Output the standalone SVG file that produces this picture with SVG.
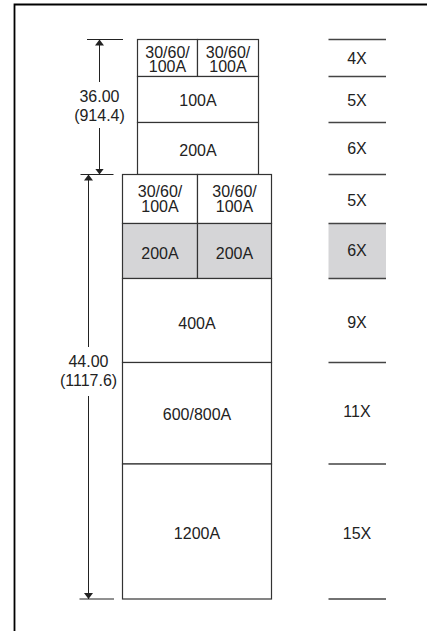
<svg xmlns="http://www.w3.org/2000/svg" width="427" height="631" viewBox="0 0 427 631">
<defs>
<style>
text{font-family:"Liberation Sans",Arial,Helvetica,sans-serif;font-size:16px;fill:#222;text-anchor:middle}
.cell{fill:#fff;stroke:#333;stroke-width:1.2}
.gray{fill:#d5d5d7;stroke:#333;stroke-width:1.2}
.ln{stroke:#333;stroke-width:1.2;fill:none}
.rl{stroke:#444;stroke-width:1.6;fill:none}
.dim{stroke:#222;stroke-width:1;fill:none}
</style>
<marker id="arr" viewBox="0 0 10 10" refX="10" refY="5" markerWidth="6" markerHeight="9" markerUnits="userSpaceOnUse" orient="auto-start-reverse" preserveAspectRatio="none">
<path d="M0,0 L10,5 L0,10 z" fill="#222"/>
</marker>
</defs>
<rect width="427" height="631" fill="#fff"/>
<path d="M14.5,631 V4.5 H427" fill="none" stroke="#000" stroke-width="1.8"/>

<g id="upper-30-60-100A-left"><rect class="cell" x="137.5" y="39.5" width="60" height="37"/><text x="167.5" y="58">30/60/</text><text x="167.5" y="72">100A</text></g>
<g id="upper-30-60-100A-right"><rect class="cell" x="197.5" y="39.5" width="61" height="37"/><text x="228" y="58">30/60/</text><text x="228" y="72">100A</text></g>
<g id="upper-100A"><rect class="cell" x="137.5" y="76.5" width="121" height="46"/><text x="198" y="105.5">100A</text></g>
<g id="upper-200A"><rect class="cell" x="137.5" y="122.5" width="121" height="52"/><text x="198" y="155.5">200A</text></g>

<g id="lower-30-60-100A-left"><rect class="cell" x="122.5" y="174.5" width="75" height="49"/><text x="160" y="197">30/60/</text><text x="160" y="211.5">100A</text></g>
<g id="lower-30-60-100A-right"><rect class="cell" x="197.5" y="174.5" width="74" height="49"/><text x="234.5" y="197">30/60/</text><text x="234.5" y="211.5">100A</text></g>
<g id="lower-200A-left"><rect class="gray" x="122.5" y="223.5" width="75" height="55"/><text x="160" y="259">200A</text></g>
<g id="lower-200A-right"><rect class="gray" x="197.5" y="223.5" width="74" height="55"/><text x="234.5" y="259">200A</text></g>
<g id="lower-400A"><rect class="cell" x="122.5" y="278.5" width="149" height="84"/><text x="197" y="329">400A</text></g>
<g id="lower-600-800A"><rect class="cell" x="122.5" y="362.5" width="149" height="101.5"/><text x="197" y="420">600/800A</text></g>
<g id="lower-1200A"><rect class="cell" x="122.5" y="464" width="149" height="135"/><text x="197" y="538.5">1200A</text></g>

<g id="factors">
<rect x="328.5" y="223.5" width="57.5" height="55" fill="#d5d5d7"/>
<path class="rl" d="M328.5,39.5H386M328.5,76.5H386M328.5,122.5H386M328.5,174.5H386M328.5,223.5H386M328.5,278.5H386M328.5,362.5H386M328.5,464H386M328.5,599H386"/>
<text x="357" y="64">4X</text>
<text x="357" y="106">5X</text>
<text x="357" y="154">6X</text>
<text x="357" y="205.5">5X</text>
<text x="357" y="255.5">6X</text>
<text x="357" y="328">9X</text>
<text x="357" y="417">11X</text>
<text x="357" y="538.5">15X</text>
</g>

<g id="connectors">
<path class="dim" d="M87,39.5H123M80.5,174.5H113.5M79.5,599H114"/>
<line class="dim" x1="99.5" y1="82" x2="99.5" y2="39.5" marker-end="url(#arr)"/>
<line class="dim" x1="99.5" y1="128" x2="99.5" y2="174.5" marker-end="url(#arr)"/>
<line class="dim" x1="88.5" y1="347" x2="88.5" y2="174.5" marker-end="url(#arr)"/>
<line class="dim" x1="88.5" y1="396" x2="88.5" y2="599" marker-end="url(#arr)"/>
</g>
<g id="dim-36"><text x="99.5" y="102.3">36.00</text><text x="99.5" y="120.5">(914.4)</text></g>
<g id="dim-44"><text x="88.5" y="367.3">44.00</text><text x="88.5" y="386">(1117.6)</text></g>
</svg>
